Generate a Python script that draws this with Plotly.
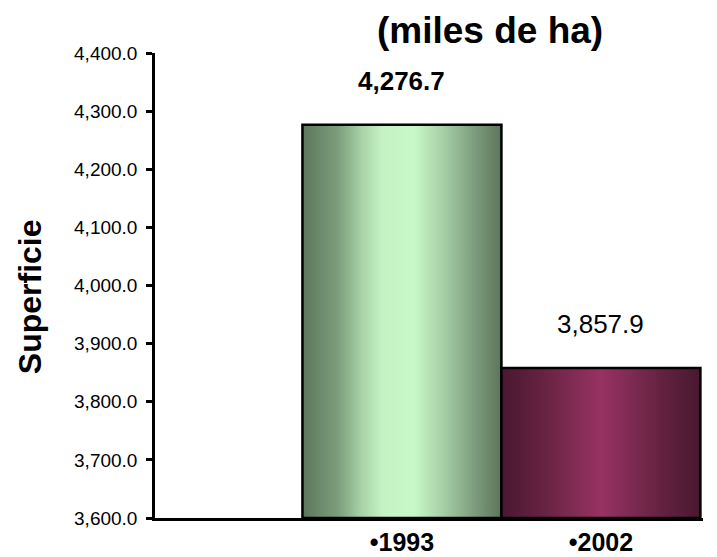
import plotly.graph_objects as go

# ---- data ----
years = ["•1993", "•2002"]
values = [4276.7, 3857.9]
value_labels = ["4,276.7", "3,857.9"]
y_ticks = [3600, 3700, 3800, 3900, 4000, 4100, 4200, 4300, 4400]
y_tick_labels = ["3,600.0", "3,700.0", "3,800.0", "3,900.0", "4,000.0",
                 "4,100.0", "4,200.0", "4,300.0", "4,400.0"]

# ---- style ----
positions = [1, 2]
bar_width = 1.0
y_min, y_max = 3600, 4400
green_scale = [[0, "#5c765c"], [0.18, "#7c9e7c"], [0.30, "#a8d4a8"], [0.40, "#c4f2c4"],
               [0.56, "#c8f8c8"], [0.70, "#a8d2a8"], [0.86, "#7e9e7e"], [1, "#5c745c"]]
purple_scale = [[0, "#4a1830"], [0.2, "#652240"], [0.38, "#832c56"], [0.5, "#973262"],
                [0.62, "#832c56"], [0.8, "#652240"], [1, "#481830"]]
scales = [green_scale, purple_scale]
FONT = "Liberation Sans, Arial, sans-serif"
label_fonts = [dict(family=FONT, size=26, color="black", weight="bold"),
               dict(family=FONT, size=26, color="black")]

fig = go.Figure()
for pos, val, cs in zip(positions, values, scales):
    x0, x1 = pos - bar_width / 2, pos + bar_width / 2
    fig.add_trace(go.Scatter(
        x=[x0, x0, x1, x1, x0],
        y=[y_min, val, val, y_min, y_min],
        mode="lines",
        fill="toself",
        fillgradient=dict(type="horizontal", colorscale=cs),
        line=dict(color="black", width=2.5),
        hoverinfo="skip",
        showlegend=False,
    ))

for pos, val, lab, f in zip(positions, values, value_labels, label_fonts):
    fig.add_annotation(x=pos, y=val, text=lab, showarrow=False,
                       yshift=44, yanchor="middle", font=f)

fig.add_annotation(text="<b>Superficie</b>", textangle=-90, showarrow=False,
                   xref="paper", yref="paper", x=-0.228, y=0.475,
                   xanchor="center", yanchor="middle",
                   font=dict(family=FONT, size=32, color="black"))

fig.add_annotation(text="<b>(miles de ha)</b>", showarrow=False,
                   xref="paper", yref="paper", x=(490 - 155) / 548, y=1 + 22 / 465,
                   xanchor="center", yanchor="middle",
                   font=dict(family=FONT, size=37, color="black"))

fig.update_layout(
    width=717, height=557,
    margin=dict(l=155, r=14, t=53, b=39, autoexpand=False),
    paper_bgcolor="white", plot_bgcolor="white",
    xaxis=dict(range=[-0.241, 2.513], tickvals=positions, ticktext=years,
               showline=True, linecolor="black", linewidth=2.5, ticks="", ticklen=0,
               showgrid=False, zeroline=False, ticklabelstandoff=0, automargin=False,
               tickfont=dict(family=FONT, size=25, color="black", weight="bold")),
    yaxis=dict(range=[y_min, y_max], tickvals=y_ticks, ticktext=y_tick_labels,
               showline=True, linecolor="black", linewidth=2.5,
               ticks="outside", ticklen=6, tickwidth=2.5, tickcolor="black",
               showgrid=False, zeroline=False, ticklabelstandoff=5, automargin=False,
               tickfont=dict(family=FONT, size=19, color="black")),
)

fig.write_html("out.html", config={"displayModeBar": False},
               post_script="document.body.style.margin='0px';")
